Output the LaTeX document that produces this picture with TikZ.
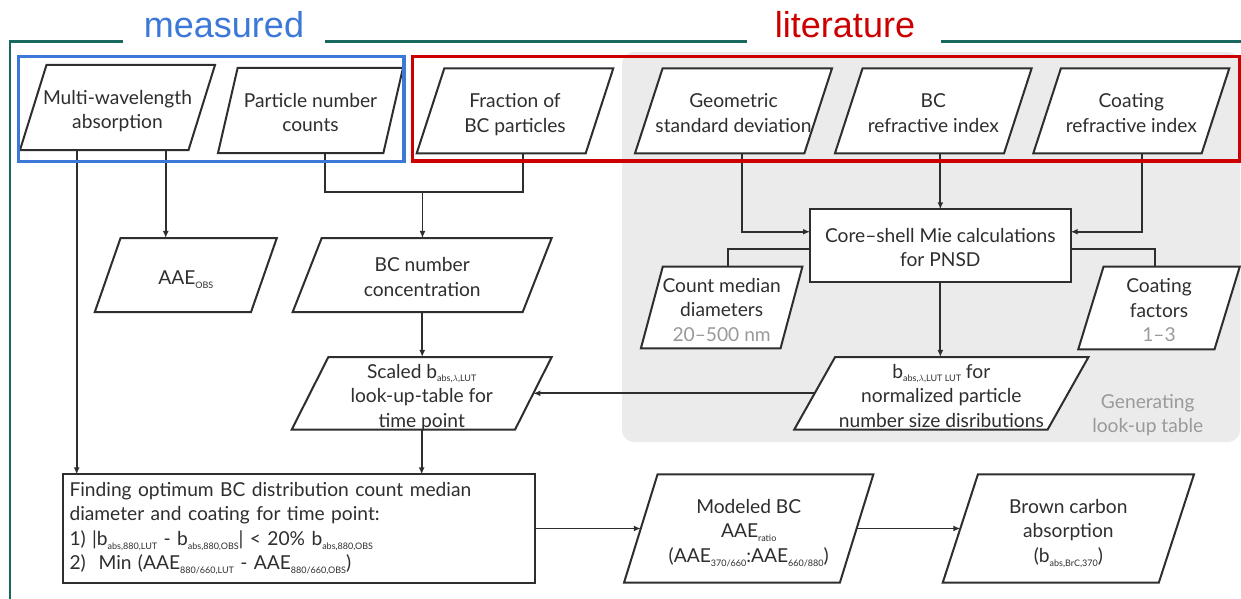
\documentclass[tikz,border=0pt]{standalone}
\usepackage{fontspec}
\setmainfont{Lato}
\newfontfamily\titlefont{Liberation Sans}
\usetikzlibrary{shapes.geometric,arrows.meta,calc}
\definecolor{teal1}{HTML}{17695F}
\definecolor{mblue}{HTML}{3C78D8}
\definecolor{lred}{HTML}{CC0000}
\definecolor{ink}{HTML}{2E2E2E}
\definecolor{regiongray}{HTML}{EBEBEB}
\definecolor{softgray}{HTML}{9A9A9A}
\newcommand{\lsub}[1]{\raisebox{-0.4ex}{\fontsize{9}{9}\selectfont #1}}
\newcommand{\ctext}[1]{\makebox[0pt]{\smash{\raisebox{-9.5pt}{\begin{tabular}{@{}c@{}}#1\end{tabular}}}}}
\begin{document}
\begin{tikzpicture}[x=1pt,y=-1pt,
  font=\fontsize{19.2}{24.5}\selectfont,
  para/.style n args={4}{trapezium, trapezium stretches body,
    trapezium left angle=#1, trapezium right angle=#2,
    minimum width=#3, text height=#4, text depth=#4,
    draw=ink, line width=2pt, fill=white, inner sep=0pt, outer sep=0pt, text=ink},
  rbox/.style={rectangle, draw=ink, line width=2pt, fill=white, inner sep=0pt, outer sep=0pt, text=ink},
  conn/.style={draw=ink, line width=1.8pt},
  arr/.style={conn, -{Latex[length=7pt,width=6pt]}},
  soft/.style={text=softgray}]
\useasboundingbox (0,0) rectangle (1241,599);
\fill[white] (0,0) rectangle (1241,599);
% grey region
\fill[regiongray, rounded corners=12pt] (622,52) rectangle (1240,442);
% frame
\draw[teal1, line width=2.5pt] (123,41.7) -- (10,41.7) -- (10,599);
\draw[teal1, line width=2.5pt] (325,41.7) -- (746.7,41.7);
\draw[teal1, line width=2.5pt] (940.8,41.7) -- (1241,41.7);
\node[font=\titlefont\fontsize{36}{36}\selectfont, text=mblue, anchor=base] (tm) at (224,37.3) {measured};
\node[font=\titlefont\fontsize{36}{36}\selectfont, text=lred, anchor=base] (tl) at (845,37.3) {literature};
% top row
\node[para={72.7}{107.3}{195pt}{42.5pt}] (m1) at (117.5,107.5) {\ctext{Multi-wavelength\\absorption}};
\node[para={77}{103}{185pt}{42.5pt}] (m2) at (310.5,110.5) {\ctext{Particle number\\counts}};
\node[para={72}{108}{196.6pt}{42.5pt}] (l1) at (515,110.8) {\ctext{Fraction of\\BC particles}};
\node[para={72}{108}{197pt}{42.5pt}] (l2) at (733.5,110.8) {\ctext{Geometric\\standard deviation}};
\node[para={72}{108}{196.7pt}{42.5pt}] (l3) at (933.3,110.8) {\ctext{BC\\refractive index}};
\node[para={72}{108}{196pt}{42.5pt}] (l4) at (1131.3,110.8) {\ctext{Coating\\refractive index}};
% second row
\node[para={70.8}{109.2}{182pt}{37pt}] (aae) at (185.8,275) {\ctext{AAE\lsub{OBS}}};
\node[para={68.6}{111.4}{259pt}{37pt}] (bcn) at (422.2,275) {\ctext{BC number\\concentration}};
\node[rbox, minimum width=260.7pt, minimum height=72.4pt] (cs) at (940.35,245.5) {\ctext{Core–shell Mie calculations\\for PNSD}};
\node[para={75}{105}{161.5pt}{40.8pt}] (cm) at (721.65,307.5) {\ctext{Count median\\diameters\\\textcolor{softgray}{20–500 nm}}};
\node[para={73}{107}{161.5pt}{41.3pt}] (cf) at (1159,308) {\ctext{Coating\\factors\\\textcolor{softgray}{1–3}}};
% third row
\node[para={63.2}{116.8}{260pt}{36.3pt}] (scaled) at (421.7,393.3) {\ctext{Scaled b\lsub{abs,$\lambda$,LUT}\\look-up-table for\\time point}};
\node[para={60.6}{119.4}{294.3pt}{36.3pt}] (blut) at (941.35,393.3) {\ctext{b\lsub{abs,$\lambda$,LUT LUT} for\\normalized particle\\number size disributions}};
\node[soft, align=center] (gen) at (1147.8,415) {Generating\\look-up table};
% bottom row
\node[rbox, minimum width=471.4pt, minimum height=108.3pt, text width=459pt, inner xsep=6pt, align=left] (find) at (299,528.5)
  {Finding optimum BC distribution count median\\
   diameter and coating for time point:\\
   1) |b\lsub{abs,880,LUT} - b\lsub{abs,880,OBS}| < 20\% b\lsub{abs,880,OBS}\\
   2)\ \ Min (AAE\lsub{880/660,LUT} - AAE\lsub{880/660,OBS})};
\node[para={72.8}{107.2}{249.4pt}{54.2pt}] (mod) at (748.7,528.5) {\ctext{Modeled BC\\AAE\lsub{ratio}\\(AAE\lsub{370/660}:AAE\lsub{660/880})}};
\node[para={72}{108}{251.3pt}{54.2pt}] (brc) at (1068.35,528.5) {\ctext{Brown carbon\\absorption\\(b\lsub{abs,BrC,370})}};
% connectors
\draw[arr] ($(m1.south)+(-40.8,0)$) coordinate (a1) -- (a1 |- find.north);
\draw[arr] ($(m1.south)+(48.2,0)$) coordinate (a2) -- (a2 |- aae.north);
\coordinate (join) at (422.5,191.7);
\draw[conn] ($(m2.south)+(14.5,0)$) |- (join) -| ($(l1.south)+(7.7,0)$);
\draw[arr] (join) -- (join |- bcn.north);
\draw[arr] (bcn.south) -- (bcn.south |- scaled.north);
\draw[arr] (scaled.south) -- (scaled.south |- find.north);
\draw[arr] ($(l2.south)+(8.2,0)$) |- ($(cs.north west)!0.31!(cs.south west)$);
\draw[arr] (l3.south -| cs.north) -- (cs.north);
\draw[arr] ($(l4.south)+(10.4,0)$) |- ($(cs.north east)!0.31!(cs.south east)$);
\draw[conn] ($(cs.north west)!0.55!(cs.south west)$) -| ($(cm.north)+(6,0)$);
\draw[conn] ($(cs.north east)!0.55!(cs.south east)$) -| ($(cf.north)+(-4,0)$);
\draw[arr] (cs.south) -- (cs.south |- blut.north);
\draw[arr] (blut.west) -- (scaled.east);
\draw[arr] (find.east) -- (mod.west);
\draw[arr] (mod.east) -- (brc.west);
% group frames
\draw[mblue, line width=3.5pt] (18.3,56.7) rectangle (404,161.7);
\draw[lred, line width=3.5pt] (412.7,56.7) rectangle (1239.3,161);
\end{tikzpicture}
\end{document}
